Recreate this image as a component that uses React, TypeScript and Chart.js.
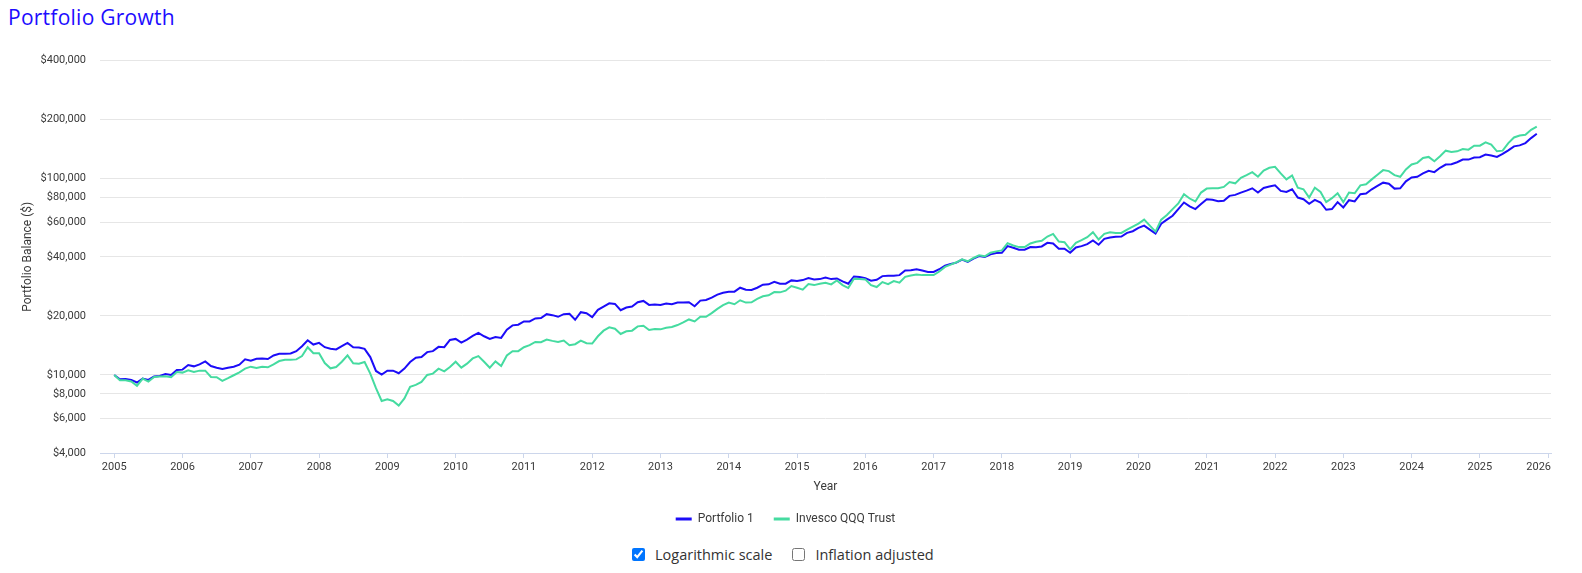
import React, { useEffect, useRef } from "react";
import { Chart, registerables } from "chart.js";

Chart.register(...registerables);

// ---- data (monthly balances, start Jan 2005, one value per month) ----
const startYear = 2005;
const yearTicks = [2005, 2006, 2007, 2008, 2009, 2010, 2011, 2012, 2013, 2014, 2015, 2016, 2017, 2018, 2019, 2020, 2021, 2022, 2023, 2024, 2025, 2026];
const yTickValues = [4000, 6000, 8000, 10000, 20000, 40000, 60000, 80000, 100000, 200000, 400000];
const seriesNames = ["Portfolio 1", "Invesco QQQ Trust"];

const portfolio1 = [
  10000, 9509, 9546, 9435, 9147, 9582, 9435, 9808, 9884, 10117, 10000, 10599,
  10640, 11233, 11060, 11320, 11722, 11103, 10890, 10722, 10890, 11017, 11276, 12000,
  11815, 12093, 12140, 12046, 12569, 12815, 12815, 12865, 13219, 14010, 15025, 14284,
  14564, 13848, 13583, 13479, 14010, 14564, 13848, 13795, 13583, 12328, 10476, 10039,
  10517, 10517, 10196, 10764, 11631, 12233, 12328, 13066, 13219, 13902, 13848, 15083,
  15259, 14621, 15142, 15801, 16363, 15740, 15259, 15618, 15438, 17008, 17888, 18027,
  18739, 18739, 19403, 19478, 20404, 20168, 19782, 20404, 20484, 19104, 20885, 20644,
  19704, 21459, 22306, 23187, 23008, 21376, 22048, 22306, 23459, 23826, 22752, 22841,
  22752, 23107, 22929, 23368, 23368, 23459, 22393, 23919, 24105, 24770, 25650, 26253,
  26560, 26560, 27826, 27186, 27081, 27826, 28831, 28942, 29854, 29168, 29168, 30321,
  30087, 30438, 31155, 30675, 30794, 31397, 30794, 31034, 29969, 29168, 31764, 31519,
  31155, 30202, 30555, 31888, 32012, 32012, 32261, 34040, 34173, 34573, 34040, 33511,
  33511, 34573, 36080, 36786, 37361, 38688, 37650, 39141, 40375, 39908, 41166, 41810,
  41972, 45350, 44479, 43456, 43456, 44825, 44800, 45174, 47144, 46780, 43966, 43966,
  41972, 44652, 45350, 46416, 48441, 46057, 49387, 50161, 50551, 50746, 52955, 53995,
  56133, 57677, 55051, 52550, 59032, 61848, 64792, 70007, 75679, 72240, 70007, 74226,
  78665, 78058, 76856, 77155, 81772, 82727, 85004, 87003, 89400, 85004, 89747, 91180,
  92575, 86667, 85667, 88360, 80203, 78665, 74513, 78058, 75679, 69467, 70007, 75973,
  71379, 77760, 76560, 83372, 84019, 88360, 91859, 95489, 94385, 89053, 89400, 96980,
  101560, 102350, 106400, 109750, 108060, 113650, 118140, 118600, 121380, 125200, 125200, 128150,
  128650, 132710, 131170, 129150, 133740, 139560, 146210, 147920, 151990, 161090, 169400,
];

const qqqTrust = [
  10000, 9399, 9399, 9254, 8799, 9582, 9254, 9770, 9808, 9846, 9732, 10355,
  10275, 10558, 10355, 10517, 10517, 9770, 9732, 9326, 9620, 9961, 10315, 10764,
  11017, 10848, 11017, 10932, 11320, 11768, 11952, 11952, 12000, 12472, 13848, 12915,
  12915, 11498, 10806, 10975, 11676, 12569, 11454, 11410, 11631, 10156, 8564, 7362,
  7506, 7362, 6973, 7594, 8697, 8902, 9218, 10000, 10156, 10764, 10436, 10975,
  11676, 10890, 11410, 12140, 12472, 11676, 10890, 11722, 11103, 12569, 13219, 13219,
  13848, 14174, 14735, 14678, 15142, 14909, 14735, 14967, 14174, 14341, 14967, 14510,
  14454, 15740, 16810, 17474, 17205, 16172, 16681, 16810, 17678, 17816, 16940, 17139,
  17072, 17407, 17543, 17955, 18520, 19178, 18739, 19782, 19782, 20644, 21714, 22664,
  23378, 22929, 24013, 23378, 23459, 24389, 25156, 25450, 26457, 26354, 26870, 28368,
  27826, 27186, 29033, 28697, 29168, 29509, 28942, 30321, 28697, 27719, 30914, 30794,
  30675, 28697, 28043, 29738, 29033, 30087, 29509, 31623, 32137, 32512, 32261, 32261,
  32261, 33642, 35524, 36501, 37504, 38838, 37943, 39446, 40689, 40219, 41972, 42628,
  43127, 46962, 45706, 44825, 44825, 46780, 47700, 48253, 50746, 52345, 47862, 47512,
  43626, 47144, 48629, 50355, 53367, 49008, 52345, 53367, 52955, 52955, 55051, 57008,
  59032, 61848, 57677, 53786, 61848, 65295, 70007, 74804, 83372, 79276, 76560, 85004,
  89053, 89400, 89400, 90797, 96202, 94722, 101170, 104360, 108060, 102350, 110170, 113650,
  114980, 106400, 99227, 103950, 90096, 88360, 80203, 90096, 85667, 75973, 79586, 84347,
  75973, 85004, 84347, 92575, 93657, 99227, 104760, 110600, 109320, 104360, 102350, 111470,
  118140, 120460, 127650, 129150, 122820, 130160, 139020, 136870, 137940, 141740, 140640, 147350,
  147350, 153170, 149090, 137940, 139020, 151990, 162350, 166170, 167470, 177480, 184500,
];

const BLUE = "#1c0cf8";
const TEAL = "#45dba0";
const TEXT = "#3a3a3a";
const FONT = "Roboto, 'Noto Sans', sans-serif";

const toPoints = (arr: number[]) => arr.map((v, i) => ({ x: i, y: v }));

// keep the last x-axis label inside the plot area (edge justification)
const justifyLastLabel = {
  id: "justifyLastLabel",
  beforeDraw(chart: any) {
    const s = chart.scales.x;
    if (!s) return;
    const items = s.getLabelItems();
    if (!items || !items.length) return;
    const last = items[items.length - 1];
    const ctx = chart.ctx;
    ctx.save();
    ctx.font = `11px ${FONT}`;
    const w = ctx.measureText(String(last.label)).width;
    ctx.restore();
    const tickPx = s.getPixelForValue(s.ticks[s.ticks.length - 1].value);
    const x = Math.min(tickPx, chart.chartArea.right - w / 2);
    last.options.translation = [x, last.options.translation[1]];
  },
};

export default function App() {
  const canvasRef = useRef<HTMLCanvasElement | null>(null);

  useEffect(() => {
    if (!canvasRef.current) return;
    const lastIndex = portfolio1.length - 1;
    const pad = lastIndex * 0.01;
    const chart = new Chart(canvasRef.current, {
      type: "line",
      data: {
        datasets: [
          {
            label: seriesNames[0],
            data: toPoints(portfolio1),
            borderColor: BLUE,
            backgroundColor: BLUE,
            borderWidth: 2,
            pointRadius: 0,
            tension: 0,
            order: 1,
          },
          {
            label: seriesNames[1],
            data: toPoints(qqqTrust),
            borderColor: TEAL,
            backgroundColor: TEAL,
            borderWidth: 2,
            pointRadius: 0,
            tension: 0,
            order: 0,
          },
        ],
      },
      plugins: [justifyLastLabel],
      options: {
        responsive: false,
        animation: false,
        parsing: false as any,
        normalized: true,
        layout: { padding: { left: 12, right: 23, top: 16, bottom: 0 } },
        plugins: {
          tooltip: { enabled: false },
          legend: {
            position: "bottom",
            labels: {
              font: { family: FONT, size: 12 },
              color: TEXT,
              padding: 20,
              usePointStyle: true,
              pointStyle: "line",
              pointStyleWidth: 16,
              boxHeight: 12,
              sort: (a: any, b: any) => a.datasetIndex - b.datasetIndex,
              generateLabels: (ch: any) => {
                const items = Chart.defaults.plugins.legend.labels.generateLabels(ch);
                return items.map((it: any) => ({ ...it, lineWidth: 3, pointStyle: "line" }));
              },
            },
          },
        },
        scales: {
          x: {
            type: "linear",
            min: -pad,
            max: lastIndex + pad,
            afterBuildTicks: (s: any) => {
              s.ticks = yearTicks.map((y) => ({ value: (y - startYear) * 12 }));
            },
            afterFit: (s: any) => {
              s.height = 40;
            },
            ticks: {
              autoSkip: false,
              maxRotation: 0,
              padding: 3,
              font: { family: FONT, size: 11 },
              color: TEXT,
              callback: (v: any) => String(startYear + Math.round(Number(v) / 12)),
            },
            grid: {
              drawOnChartArea: false,
              drawTicks: true,
              tickLength: 5,
              color: "#ccd6eb",
              tickColor: "#ccd6eb",
            },
            border: { display: true, color: "#ccd6eb", width: 1 },
            title: {
              display: true,
              text: "Year",
              font: { family: FONT, size: 12 },
              color: TEXT,
              padding: { top: 0, bottom: -1 },
            },
          },
          y: {
            type: "logarithmic",
            min: 4000,
            max: 400000,
            afterBuildTicks: (s: any) => {
              s.ticks = yTickValues.map((v) => ({ value: v }));
            },
            afterFit: (s: any) => {
              s.width = 80;
            },
            ticks: {
              padding: 14,
              font: { family: FONT, size: 11 },
              color: TEXT,
              callback: (v: any) => "$" + Number(v).toLocaleString("en-US"),
            },
            grid: { color: "#e6e6e6", drawTicks: false, lineWidth: 1 },
            border: { display: false },
            title: {
              display: true,
              text: "Portfolio Balance ($)",
              font: { family: FONT, size: 12 },
              color: TEXT,
              padding: { top: 1, bottom: 0 },
            },
          },
        },
      },
    } as any);
    return () => chart.destroy();
  }, []);

  return (
    <div style={{ position: "relative", width: 1566, height: 557, fontFamily: "'Open Sans', sans-serif" }}>
      <div
        style={{
          position: "absolute",
          left: 0,
          top: -3,
          fontSize: 21,
          lineHeight: "24px",
          letterSpacing: "0.25px",
          color: "#1d0cff",
          whiteSpace: "nowrap",
        }}
      >
        Portfolio Growth
      </div>
      <canvas
        ref={canvasRef}
        width={1566}
        height={495}
        style={{ position: "absolute", left: 0, top: 32, display: "block" }}
      />
      <div
        style={{
          position: "absolute",
          left: 624,
          top: 536,
          height: 20,
          display: "flex",
          alignItems: "center",
          fontSize: 14.5,
          color: "#333",
          whiteSpace: "nowrap",
        }}
      >
        <input type="checkbox" defaultChecked style={{ margin: 0, width: 13, height: 13 }} />
        <span style={{ marginLeft: 10 }}>Logarithmic scale</span>
        <input type="checkbox" style={{ margin: "0 0 0 20px", width: 13, height: 13 }} />
        <span style={{ marginLeft: 10 }}>Inflation adjusted</span>
      </div>
    </div>
  );
}
